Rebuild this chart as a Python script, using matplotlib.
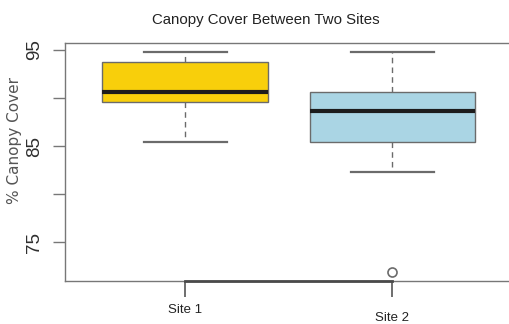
import matplotlib
matplotlib.use("Agg")
import matplotlib.pyplot as plt

# five-number summaries per site (% canopy cover)
sites = ["Site 1", "Site 2"]
whisker_low = [85.45, 82.3]
quartile_1 = [89.55, 85.45]
medians = [90.66, 88.65]
quartile_3 = [93.7, 90.66]
whisker_high = [94.8, 94.8]
outliers = [[], [71.9]]

y_ticks = [75, 80, 85, 90, 95]
y_tick_labels = ["75", "", "85", "", "95"]

box_colors = ["#F8CF0B", "#AAD5E4"]
sans = ["Liberation Sans", "DejaVu Sans"]

stats = []
for i in range(len(sites)):
    stats.append({
        "label": sites[i],
        "whislo": whisker_low[i],
        "q1": quartile_1[i],
        "med": medians[i],
        "q3": quartile_3[i],
        "whishi": whisker_high[i],
        "fliers": outliers[i],
    })

fig = plt.figure(figsize=(5.1, 3.24), dpi=100)
ax = fig.add_axes([65 / 510, 43 / 324, 460 / 510, 238 / 324])

bp = ax.bxp(
    stats,
    positions=[1, 2],
    widths=0.8,
    patch_artist=True,
    showfliers=True,
    boxprops=dict(edgecolor="#6b6b6b", linewidth=1.0),
    medianprops=dict(color="#1c1c1c", linewidth=3.0, solid_capstyle="butt"),
    whiskerprops=dict(color="#6b6b6b", linewidth=1.0, linestyle=(0, (4, 3))),
    capprops=dict(color="#6b6b6b", linewidth=1.6),
    flierprops=dict(marker="o", markerfacecolor="white", markeredgecolor="#6b6b6b",
                    markersize=6.5, markeredgewidth=1.2),
    capwidths=0.4,
)
for patch, c in zip(bp["boxes"], box_colors):
    patch.set_facecolor(c)

# range padded like R does (4% each side)
lo = min(min(whisker_low), min(min(o) for o in outliers if o))
hi = max(whisker_high)
pad = (hi - lo) * 0.04
ax.set_ylim(lo - pad, hi + pad)
ax.set_xlim(0.42, 2.64)

for side in ["left", "top", "bottom"]:
    ax.spines[side].set_color("#777777")
    ax.spines[side].set_linewidth(1.0)
ax.spines["right"].set_visible(False)

# y axis
ax.set_yticks(y_ticks)
ax.set_yticklabels(y_tick_labels, rotation=90, va="center",
                   fontsize=13.5, family=sans, color="#2f2f2f")
ax.tick_params(axis="y", direction="out", length=8.6, width=1.0, color="#777777", pad=7)

# x axis: line between first and last site, ticks pointing down
ax.set_xticks([1, 2])
ax.set_xticklabels([])
ax.tick_params(axis="x", direction="out", length=11.5, width=1.2, color="#555555")
ax.plot([1, 2], [0, 0], transform=ax.get_xaxis_transform(), color="#4a4a4a",
        linewidth=2.0, clip_on=False, zorder=5)

label_drop = [-21, -26.5]
for pos, name, dy in zip([1, 2], sites, label_drop):
    ax.annotate(name, xy=(pos, 0), xycoords=("data", "axes fraction"),
                xytext=(0, dy), textcoords="offset points",
                ha="center", va="center", fontsize=9.5, family=sans, color="#222222")

fig.text(266 / 510, 1 - 20 / 324, "Canopy Cover Between Two Sites",
         ha="center", va="center", fontsize=10.8, family=sans, color="#222222")
fig.text(15 / 510, 1 - 141 / 324, "% Canopy Cover", rotation=90,
         ha="center", va="center", fontsize=11, family=["DejaVu Sans"], color="#555555")

fig.savefig("out.png", dpi=100)
